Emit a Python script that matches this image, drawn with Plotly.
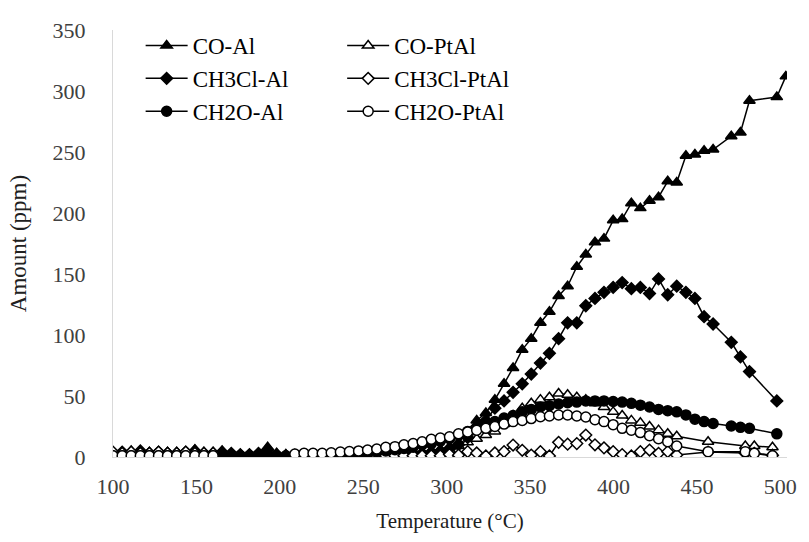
import plotly.graph_objects as go

# Sampling temperatures (°C) for the Al runs and the PtAl runs
temp_al = [
    100.0, 105.5, 110.9, 116.4, 121.8, 127.3, 132.7, 138.2, 143.6, 149.1, 154.5, 160.0,
    165.4, 170.9, 176.3, 181.8, 187.2, 192.7, 198.1, 203.6,
    209.0, 214.5, 219.9, 225.4, 230.8, 236.3, 241.7, 247.2, 252.6, 258.1, 263.5, 269.0,
    274.4, 279.9, 285.3, 290.8, 296.2,
    301.7, 307.1, 312.6, 318.0, 323.5, 328.9, 334.4, 339.8, 345.3,
    350.7, 356.2, 361.6, 367.1, 372.5, 378.0, 383.4, 388.9, 394.3, 399.8, 405.2, 410.7,
    416.1, 421.6, 427.0, 432.5, 437.9, 443.4, 448.8, 454.3, 459.7,
    470.6, 476.1, 481.5, 497.9, 503.3,
]
temp_ptal = [
    100.0, 105.5, 110.9, 116.4, 121.8, 127.3, 132.7, 138.2, 143.6, 149.1, 154.5, 160.0,
    209.0, 214.5, 219.9, 225.4, 230.8, 236.3, 241.7, 247.2, 252.6, 258.1, 263.5, 269.0,
    274.4, 279.9, 285.3, 290.8, 296.2,
    301.7, 307.1, 312.6, 318.0, 323.5, 328.9, 334.4, 339.8, 345.3,
    350.7, 356.2, 361.6, 367.1, 372.5, 378.0, 383.4, 388.9, 394.3, 399.8, 405.2, 410.7,
    416.1, 421.6, 427.0, 432.5, 437.9,
    456.7, 479.0, 484.4, 495.3,
]

# Amounts (ppm), Al catalyst
co_al = [
    3, 4, 5, 3, 4, 3, 4, 3, 4, 6, 4, 4,
    5, 3, 2, 2, 3, 8, 3, 2,
    2, 2, 1, 1, 1, 1, 1, 2, 2, 2, 2, 3, 3, 3, 4, 5, 6,
    8, 12, 20, 30, 36, 47, 60, 73, 88,
    97, 110, 119, 132, 140, 156, 166, 176, 179, 194, 195, 208,
    204, 210, 213, 226, 225, 247, 248, 251, 252,
    263, 266, 292, 295, 312,
]
ch3cl_al = [
    3, 4, 3, 5, 3, 4, 3, 3, 4, 5, 3, 3,
    4, 3, 2, 2, 3, 6, 2, 1,
    1, 1, 1, 1, 1, 1, 1, 1, 1, 2, 2, 2, 2, 3, 3, 4, 5,
    7, 10, 16, 25, 30, 40, 46, 53, 60,
    68, 77, 85, 97, 110, 110, 124, 130, 135, 139, 143, 138,
    139, 134, 146, 133, 140, 135, 130, 115, 109,
    94, 82, 70, 46, None,
]
ch2o_al = [
    1, 1, 1, 1, 1, 1, 1, 1, 1, 1, 1, 1,
    1, 1, 1, 1, 1, 2, 1, 1,
    1, 1, 1, 1, 1, 2, 2, 3, 3, 4, 5, 6, 7, 8, 10, 11, 13,
    15, 18, 21, 24, 27, 29, 32, 34, 37,
    39, 41, 42, 43.5, 44.5, 45, 46, 46, 46, 45.5, 45, 44,
    42.5, 41, 39, 38, 37, 34.5, 31, 29, 27.5,
    25.4, 24.3, 23.5, 19, None,
]

# Amounts (ppm), PtAl catalyst
co_ptal = [
    4, 3, 3, 4, 3, 3, 3, 4, 3, 3, 3, 3,
    1, 1, 1, 1, 1, 1, 1, 1, 1, 1, 1, 1, 1, 2, 2, 3, 4,
    6, 9, 12, 15, 18, 21, 27, 34, 40,
    44, 47, 49, 52, 51, 49, 47, 44, 41, 37, 34, 30,
    28, 25, 22, 19, 17,
    12.5, 9, 9, 8,
]
ch3cl_ptal = [
    4, 3, 4, 3, 3, 4, 3, 3, 4, 3, 3, 3,
    1, 1, 1, 1, 1, 1, 1, 1, 1, 1, 1, 1, 1, 1, 1, 1, 1,
    2, 1.5, 4.4, 3.3, 0.8, 3.3, 4.4, 9.8, 5.5,
    1.6, 4.4, 0.8, 12, 10.5, 11, 18, 10, 7.5, 4.4, 2, 0.8,
    4.4, 5.7, 3, 4.4, 1.6,
    4, 3, 3, 1.5,
]
ch2o_ptal = [
    1, 1, 1, 1, 1, 1, 1, 1, 1, 1, 1, 1,
    2.5, 3, 3, 3, 3.5, 4, 4.5, 5, 5.7, 6.6, 8, 8.5, 10, 11, 12.5, 14.5, 15.5,
    16.6, 19, 20.5, 22, 23.5, 25, 27, 29, 30,
    31.5, 33, 33.6, 34.4, 34.4, 33.6, 32.8, 30.5, 29, 26.5, 23.5, 22,
    20, 17.5, 15, 12.6, 9,
    4.4, 4.4, 3, 1,
]

FONT = "Liberation Serif"

series = [
    ("CO-Al", temp_al, co_al, "triangle-up", "black", 10, "legend"),
    ("CO-PtAl", temp_ptal, co_ptal, "triangle-up", "white", 10, "legend2"),
    ("CH3Cl-Al", temp_al, ch3cl_al, "diamond", "black", 9, "legend"),
    ("CH3Cl-PtAl", temp_ptal, ch3cl_ptal, "diamond", "white", 9, "legend2"),
    ("CH2O-Al", temp_al, ch2o_al, "circle", "black", 10, "legend"),
    ("CH2O-PtAl", temp_ptal, ch2o_ptal, "circle", "white", 10, "legend2"),
]

fig = go.Figure()
for name, xs, ys, sym, fill, size, leg in series:
    fig.add_trace(go.Scatter(
        x=xs, y=ys, name=name, mode="lines+markers", legend=leg,
        line=dict(color="black", width=1.5),
        marker=dict(symbol=sym, size=size, color=fill,
                    line=dict(color="black", width=1.5)),
        connectgaps=False,
    ))

legend_style = dict(
    font=dict(family=FONT, size=23, color="black"),
    bgcolor="rgba(0,0,0,0)", yanchor="top", y=1.014,
    tracegroupgap=0, itemwidth=42,
)

fig.update_layout(
    width=809, height=542,
    margin=dict(l=113, r=14, t=30, b=85),
    paper_bgcolor="white", plot_bgcolor="white",
    font=dict(family=FONT, size=22, color="#404040"),
    legend=dict(x=0.041, xanchor="left", **legend_style),
    legend2=dict(x=0.34, xanchor="left", **legend_style),
    xaxis=dict(
        range=[100, 504], tick0=100, dtick=50,
        showgrid=False, zeroline=False,
        showline=True, linecolor="#d9d9d9", linewidth=1,
        ticks="outside", ticklen=10, tickcolor="rgba(0,0,0,0)",
        tickfont=dict(family=FONT, size=22, color="#404040"),
        title=dict(text="Temperature (°C)", standoff=14,
                   font=dict(family=FONT, size=21, color="#202020")),
    ),
    yaxis=dict(
        range=[0, 350], tick0=0, dtick=50,
        showgrid=False, zeroline=False,
        showline=True, linecolor="#d9d9d9", linewidth=1,
        ticks="outside", ticklen=22, tickcolor="rgba(0,0,0,0)",
        tickfont=dict(family=FONT, size=22, color="#404040"),
        title=dict(text="Amount (ppm)", standoff=19,
                   font=dict(family=FONT, size=23, color="#202020")),
    ),
)

fig.write_html("out.html")
